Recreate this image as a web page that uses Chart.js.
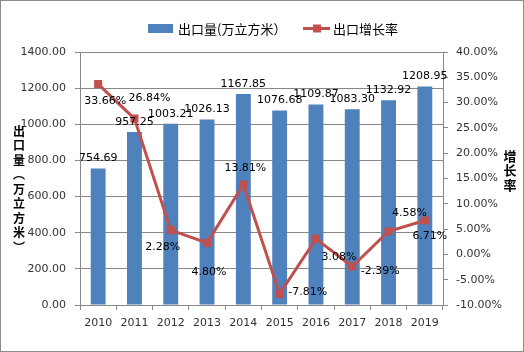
<!DOCTYPE html>
<html>
<head>
<meta charset="utf-8">
<script src="https://cdn.jsdelivr.net/npm/chart.js@4"></script>
<style>
    body { margin: 0; background: #fff; }
    #wrap { position: absolute; left: 0; top: 0; width: 524px; height: 352px; border: 1px solid #8c8c8c; box-sizing: border-box; background: #fff; }
</style>
</head>
<body>
<div id="wrap"><canvas id="chart" width="522" height="350"></canvas></div>
<script>
const years = ["2010", "2011", "2012", "2013", "2014", "2015", "2016", "2017", "2018", "2019"];
const exportVolume = [754.69, 957.25, 1003.21, 1026.13, 1167.85, 1076.68, 1109.87, 1083.30, 1132.92, 1208.95];
const growthRate = [33.66, 26.84, 4.80, 2.28, 13.81, -7.81, 3.08, -2.39, 4.58, 6.71];
// label text as printed on the original (2012/2013 labels are swapped there)
const growthText = ["33.66%", "26.84%", "2.28%", "4.80%", "13.81%", "-7.81%", "3.08%", "-2.39%", "4.58%", "6.71%"];

const volumeLabel = "出口量(万立方米）";
const growthLabel = "出口增长率";
const leftTitle = ["出", "口", "量", "︵", "万", "立", "方", "米", "︶"];
const rightTitle = ["增", "长", "率"];

const C_BAR = "#4F81BD";
const C_LINE = "#C0504D";
const C_AXIS = "#888888";
const C_TEXT = "#333333";
const NUM_FONT = { family: "'DejaVu Sans', sans-serif", size: 11 };
const CJK = "'Noto Sans CJK SC', sans-serif";

// where each growth label sits relative to its point (Excel placed them by hand)
const growthLabelShift = [[7, 17], [15, -20], [-8, 17], [2, 29], [2, -16], [28, -2], [23, 18], [28, 5], [21, -18], [5, 16]];

const extras = {
    id: "extras",
    afterDraw(chart) {
        const ctx = chart.ctx;
        ctx.save();

        // value labels
        ctx.font = "11px 'DejaVu Sans', sans-serif";
        ctx.fillStyle = "#000";
        ctx.textAlign = "center";
        ctx.textBaseline = "middle";
        chart.getDatasetMeta(0).data.forEach((b, i) => {
            ctx.fillText(exportVolume[i].toFixed(2), b.x, b.y - 10);
        });
        chart.getDatasetMeta(1).data.forEach((p, i) => {
            const s = growthLabelShift[i];
            ctx.fillText(growthText[i], p.x + s[0], p.y + s[1]);
        });

        // legend
        ctx.fillStyle = C_BAR;
        ctx.fillRect(147, 23, 25, 9);
        ctx.strokeStyle = C_LINE;
        ctx.lineWidth = 3;
        ctx.beginPath();
        ctx.moveTo(302, 27.5);
        ctx.lineTo(329, 27.5);
        ctx.stroke();
        ctx.fillStyle = C_LINE;
        ctx.fillRect(312, 23.5, 8, 8);
        ctx.fillStyle = "#000";
        ctx.textAlign = "left";
        ctx.font = "13px " + CJK;
        ctx.fillText(volumeLabel, 177, 28);
        ctx.fillText(growthLabel, 332, 28);

        // stacked axis titles
        ctx.textAlign = "center";
        ctx.font = "bold 12px " + CJK;
        leftTitle.forEach((ch, i) => ctx.fillText(ch, 18, 130 + i * 14.5));
        ctx.font = "bold 13px " + CJK;
        rightTitle.forEach((ch, i) => ctx.fillText(ch, 509, 155 + i * 14.5));

        ctx.restore();
    }
};

new Chart(document.getElementById("chart").getContext("2d"), {
    data: {
        labels: years,
        datasets: [
            {
                type: "bar",
                label: volumeLabel,
                data: exportVolume,
                backgroundColor: C_BAR,
                barPercentage: 0.41,
                categoryPercentage: 1,
                yAxisID: "y",
                order: 1
            },
            {
                type: "line",
                label: growthLabel,
                data: growthRate,
                borderColor: C_LINE,
                backgroundColor: C_LINE,
                borderWidth: 3,
                pointStyle: "rect",
                pointRadius: 5.7,
                pointBorderWidth: 0,
                tension: 0,
                yAxisID: "y1",
                order: 0
            }
        ]
    },
    options: {
        responsive: false,
        animation: false,
        devicePixelRatio: 1,
        layout: { padding: { top: 51, left: 0, right: 0, bottom: 0 } },
        plugins: {
            legend: { display: false },
            tooltip: { enabled: false }
        },
        scales: {
            x: {
                grid: { offset: true, drawOnChartArea: false, tickLength: 5, color: C_AXIS },
                border: { color: C_AXIS },
                ticks: { font: NUM_FONT, color: C_TEXT, padding: 7, maxRotation: 0 },
                afterFit: s => { s.height = 46; }
            },
            y: {
                position: "left",
                min: 0,
                max: 1400,
                grid: { color: C_AXIS, tickLength: 5 },
                border: { color: C_AXIS },
                ticks: { stepSize: 200, font: NUM_FONT, color: C_TEXT, padding: 9, callback: v => v.toFixed(2) },
                afterFit: s => { s.width = 79; }
            },
            y1: {
                position: "right",
                min: -10,
                max: 40,
                grid: { drawOnChartArea: false, color: C_AXIS, tickLength: 5 },
                border: { color: C_AXIS },
                ticks: { stepSize: 5, font: NUM_FONT, color: C_TEXT, padding: 8, callback: v => v.toFixed(2) + "%" },
                afterFit: s => { s.width = 80; }
            }
        }
    },
    plugins: [extras]
});
</script>
</body>
</html>
